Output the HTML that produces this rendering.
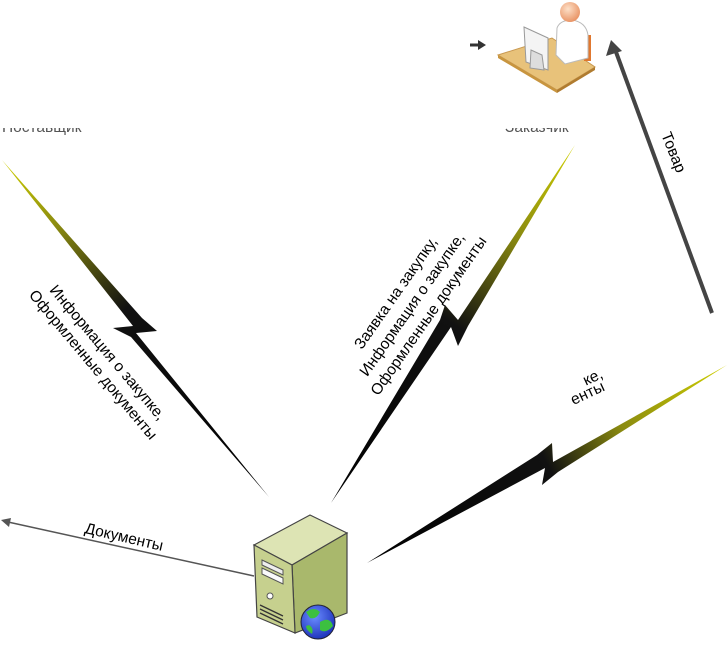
<!DOCTYPE html>
<html><head><meta charset="utf-8"><style>
body{margin:0;background:#fff;}
#c{position:relative;width:727px;height:645px;overflow:hidden;font-family:"Liberation Sans","DejaVu Sans",sans-serif;}
.t{position:absolute;font-size:15.5px;color:#000;white-space:nowrap;line-height:19px;transform-origin:center center;}
</style></head><body><div id="c">
<svg width="727" height="645" style="position:absolute;left:0;top:0">
<defs>
<linearGradient id="g1" x1="2" y1="160" x2="269" y2="497" gradientUnits="userSpaceOnUse"><stop offset="0" stop-color="#d0d000"/><stop offset="0.2" stop-color="#8a8a10"/><stop offset="0.45" stop-color="#111"/><stop offset="1" stop-color="#000"/></linearGradient>
<linearGradient id="g2" x1="575" y1="145" x2="331" y2="503" gradientUnits="userSpaceOnUse"><stop offset="0" stop-color="#d0d000"/><stop offset="0.25" stop-color="#8a8a10"/><stop offset="0.5" stop-color="#111"/><stop offset="1" stop-color="#000"/></linearGradient>
<linearGradient id="g3" x1="727" y1="365" x2="367" y2="563" gradientUnits="userSpaceOnUse"><stop offset="0" stop-color="#d0d000"/><stop offset="0.3" stop-color="#8a8a10"/><stop offset="0.5" stop-color="#111"/><stop offset="1" stop-color="#000"/></linearGradient>
<radialGradient id="gl" cx="0.4" cy="0.35" r="0.7"><stop offset="0" stop-color="#6a8cff"/><stop offset="1" stop-color="#1a2fb8"/></radialGradient>
<radialGradient id="hd" cx="0.4" cy="0.35" r="0.7"><stop offset="0" stop-color="#fde0c8"/><stop offset="1" stop-color="#e89060"/></radialGradient>
</defs>
<polygon points="2,160 142,318 157,331 136,333 269,497 131,337 113,328 133,326" fill="url(#g1)"/>
<polygon points="575,145 468,326 458,346 451,327 331,503 440,320 445,305 458,320" fill="url(#g2)"/>
<polygon points="727,365 553,462 552,443 537,455 367,563 545,468 542,485 558,472" fill="url(#g3)"/>
<line x1="254" y1="576" x2="8" y2="522" stroke="#555" stroke-width="1.5"/>
<polygon points="1,520 11,518 9,527" fill="#555"/>
<line x1="712" y1="313" x2="616" y2="52" stroke="#444" stroke-width="4"/>
<polygon points="611,40 606,56 622,51" fill="#444"/>
<line x1="470" y1="45" x2="480" y2="45" stroke="#333" stroke-width="3"/>
<polygon points="478,40 486,45 478,50" fill="#333"/>
<polygon points="498,55 552,38 595,67 557,90" fill="#e8c27a" stroke="#c89850" stroke-width="1"/>
<polygon points="498,55 557,90 557,93 498,58" fill="#c8953f"/>
<polygon points="557,90 595,67 595,70 557,93" fill="#b07c30"/>
<rect x="584" y="35" width="7" height="26" fill="#e07830"/>
<path d="M557,28 Q560,20 572,20 Q586,22 588,35 L588,58 L565,64 L556,55 Z" fill="#fff" stroke="#bbb"/>
<circle cx="570" cy="12" r="10" fill="url(#hd)"/>
<polygon points="524,27 548,38 548,70 526,62" fill="#f4f4f4" stroke="#999"/>
<polygon points="531,50 542,55 544,70 530,68" fill="#ddd" stroke="#999"/>
<polygon points="254,545 310,515 347,533 292,565" fill="#dde4b4" stroke="#444" stroke-width="1.2"/>
<polygon points="292,565 347,533 347,613 295,633" fill="#a9b86c" stroke="#444" stroke-width="1.2"/>
<polygon points="254,545 292,565 295,633 257,617" fill="#c6d08e" stroke="#444" stroke-width="1.2"/>
<polygon points="262,560 283,570 283,575 262,565" fill="#eee" stroke="#555"/>
<polygon points="262,568 283,578 283,584 262,574" fill="#fafafa" stroke="#555"/>
<circle cx="270" cy="596" r="3" fill="#fff" stroke="#555"/>
<path d="M260,605 L283,616 M260,609 L283,620 M260,613 L283,624" stroke="#333" stroke-width="1.3"/>
<circle cx="318" cy="622" r="17" fill="url(#gl)" stroke="#223" stroke-width="1"/>
<path d="M306,612 Q314,606 320,612 Q316,620 310,618 Z M320,622 Q330,616 333,626 Q326,634 320,630 Z M309,625 Q314,628 312,634 Q306,630 306,626 Z" fill="#3cc040"/>
</svg>
<div class="t" style="left:5px;top:340px;transform:rotate(50deg);text-align:center;width:190px">Информация о закупке,<br>Оформленные документы</div>
<div class="t" style="left:318px;top:275px;transform:rotate(-55deg);text-align:center;width:190px;line-height:20px">Заявка на закупку,<br>Информация о закупке,<br>Оформленные документы</div>
<div class="t" style="left:583px;top:368px;transform:rotate(-25deg)">ке,</div>
<div class="t" style="left:570px;top:384px;transform:rotate(-25deg)">енты</div>
<div class="t" style="left:652px;top:143px;transform:rotate(68deg)">Товар</div>
<div class="t" style="left:84px;top:528px;transform:rotate(13deg)">Документы</div>
<div style="position:absolute;left:0;top:128px;width:105px;height:7px;overflow:hidden"><div class="t" style="left:2px;top:-10px;color:#555">Поставщик</div></div>
<div style="position:absolute;left:505px;top:128px;width:85px;height:7px;overflow:hidden"><div class="t" style="left:0;top:-10px;color:#555">Заказчик</div></div>
</div></body></html>
